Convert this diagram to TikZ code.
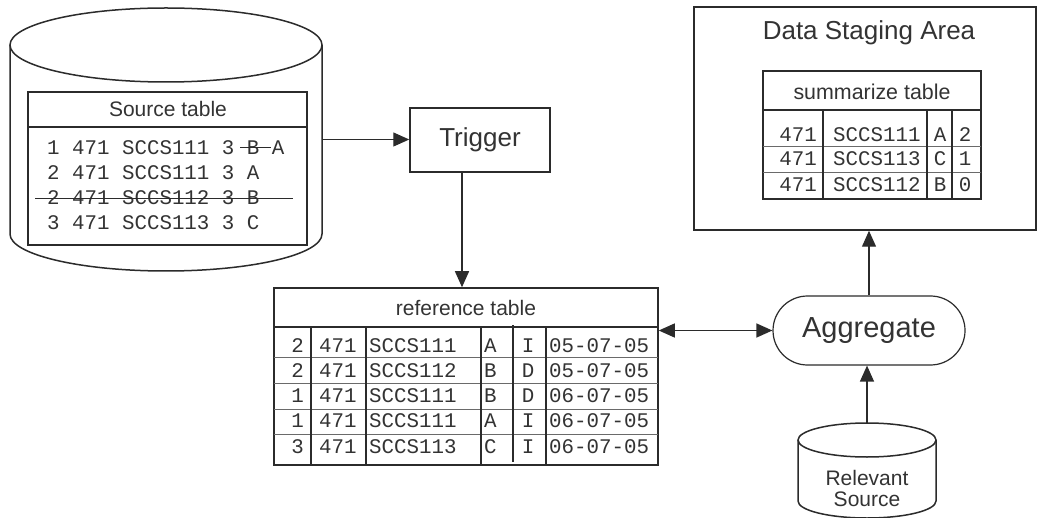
\documentclass[tikz,border=0pt]{standalone}
\usepackage{fontspec}
\setmainfont{Liberation Sans}
\newfontfamily\monof{Liberation Mono}
\usetikzlibrary{arrows.meta,calc,shapes.misc}
\definecolor{ink}{HTML}{2B2B2B}
\definecolor{txt}{HTML}{333333}
\definecolor{gridc}{HTML}{6A6A6A}
\begin{document}
\begin{tikzpicture}[x=1pt,y=-1pt,
  arr/.style={draw=ink, line width=1.3pt, -{Triangle[length=16pt,width=14pt]}},
  darr/.style={draw=ink, line width=1.3pt, {Triangle[length=16pt,width=14pt]}-{Triangle[length=16pt,width=14pt]}},
  outline/.style={draw=ink, line width=1.5pt},
  boxnode/.style={draw=ink, line width=1.5pt, inner sep=0pt, fill=white},
  ghost/.style={draw=none, inner sep=0pt},
  mono/.style={font=\monof\fontsize{20.8}{24}\selectfont, text=txt, inner sep=0pt},
  sans/.style={text=txt, inner sep=0pt},
  gridline/.style={draw=gridc, line width=0.9pt},
  colline/.style={draw=ink, line width=1.1pt}
]
\useasboundingbox (0,0) rectangle (1040,518);

% ---------- Source cylinder ----------
\node[ghost, minimum width=312pt, minimum height=263pt] (srcdb) at (166,139.5) {};
\draw[outline, fill=white] (10,45) -- (10,234) arc[start angle=180, end angle=360, x radius=156pt, y radius=37pt] -- (322,45);
\draw[outline, fill=white] (166,45) ellipse [x radius=156pt, y radius=37pt];

% source table
\node[boxnode, minimum width=279pt, minimum height=153pt] (stab) at (167.5,168.5) {};
\draw[outline] (28,127) -- (307,127);
\node[sans, font=\fontsize{21}{24}\selectfont] (sthead) at (168,109) {Source table};
\node[mono, anchor=west] (srow1) at (47,148) {1 471 SCCS111 3 B A};
\node[mono, anchor=west] (srow2) at (47,173) {2 471 SCCS111 3 A};
\node[mono, anchor=west] (srow3) at (47,198) {2 471 SCCS112 3 B};
\node[mono, anchor=west] (srow4) at (47,223) {3 471 SCCS113 3 C};
\draw[draw=ink, line width=1pt] (240,148) -- (271,148);
\draw[draw=ink, line width=1pt] (35,199) -- (293,199);

% ---------- Trigger ----------
\node[boxnode, minimum width=140pt, minimum height=64pt, font=\fontsize{26}{30}\selectfont, text=txt] (trig) at (480,140) {Trigger};

% ---------- Reference table ----------
\node[boxnode, minimum width=384pt, minimum height=177pt] (ref) at (466,376.5) {};
\draw[outline] (274,327) -- (658,327);
\node[sans, font=\fontsize{21}{24}\selectfont] (refhead) at (466,308) {reference table};
\foreach \yy in {357,383,409,434} \draw[gridline] (274,\yy) -- (658,\yy);
\foreach \xx in {311,366,481,546} \draw[colline] (\xx,327) -- (\xx,465);
\draw[colline] (513,325) -- (513,462);
\foreach \a/\b/\c/\d/\e/\f/\y [count=\i] in {
  2/471/SCCS111/A/I/05-07-05/346,
  2/471/SCCS112/B/D/05-07-05/371,
  1/471/SCCS111/B/D/06-07-05/396,
  1/471/SCCS111/A/I/06-07-05/421,
  3/471/SCCS113/C/I/06-07-05/447} {
  \node[mono, anchor=east] (ra\i) at (304,\y) {\a};
  \node[mono, anchor=west] (rb\i) at (319,\y) {\b};
  \node[mono, anchor=west] (rc\i) at (369,\y) {\c};
  \node[mono, anchor=west] (rd\i) at (484,\y) {\d};
  \node[mono] (re\i) at (528,\y) {\e};
  \node[mono, anchor=west] (rf\i) at (549,\y) {\f};
}

% ---------- Aggregate ----------
\node[draw=ink, line width=1.2pt, rounded rectangle, minimum width=192pt, minimum height=69pt, inner sep=0pt,
      font=\fontsize{29}{33}\selectfont, text=txt] (agg) at (869,330.5) {Aggregate};

% ---------- Data Staging Area ----------
\node[boxnode, minimum width=342pt, minimum height=223pt] (dsa) at (865,118.5) {};
\node[sans, font=\fontsize{26}{30}\selectfont] (dsatitle) at (869,33) {Data Staging Area};
\node[boxnode, minimum width=218pt, minimum height=128pt] (sum) at (872,135) {};
\draw[outline] (763,110) -- (981,110);
\node[sans, font=\fontsize{21.4}{24}\selectfont] (sumhead) at (872,92) {summarize table};
\foreach \yy in {146,172} \draw[gridline] (763,\yy) -- (981,\yy);
\foreach \xx in {823,927,952} \draw[colline] (\xx,110) -- (\xx,199);
\foreach \b/\c/\d/\e/\y [count=\i] in {
  471/SCCS111/A/2/135,
  471/SCCS113/C/1/159,
  471/SCCS112/B/0/185} {
  \node[mono, anchor=east] (sb\i) at (817,\y) {\b};
  \node[mono, anchor=west] (sc\i) at (833,\y) {\c};
  \node[mono] (sd\i) at (940,\y) {\d};
  \node[mono] (se\i) at (965,\y) {\e};
}

% ---------- Relevant Source cylinder ----------
\node[ghost, minimum width=138pt, minimum height=95pt] (rel) at (867,470.5) {};
\draw[outline, fill=white] (798,440) -- (798,501) arc[start angle=180, end angle=360, x radius=69pt, y radius=17pt] -- (936,440);
\draw[outline, fill=white] (867,440) ellipse [x radius=69pt, y radius=17pt];
\node[sans, font=\fontsize{21}{24}\selectfont, align=center] (reltext) at (867,488) {Relevant\\[-3pt]Source};

% ---------- Connectors ----------
\draw[arr] (srcdb.east) -- (srcdb.east -| trig.west);
\draw[arr] ([xshift=-18pt]trig.south) -- ([xshift=-18pt]trig.south |- ref.north);
\draw[darr] (agg.west -| ref.east) -- (agg.west);
\draw[arr] (agg.north) -- (agg.north |- dsa.south);
\draw[arr] (rel.north) -- (rel.north |- agg.south);
\end{tikzpicture}
\end{document}
